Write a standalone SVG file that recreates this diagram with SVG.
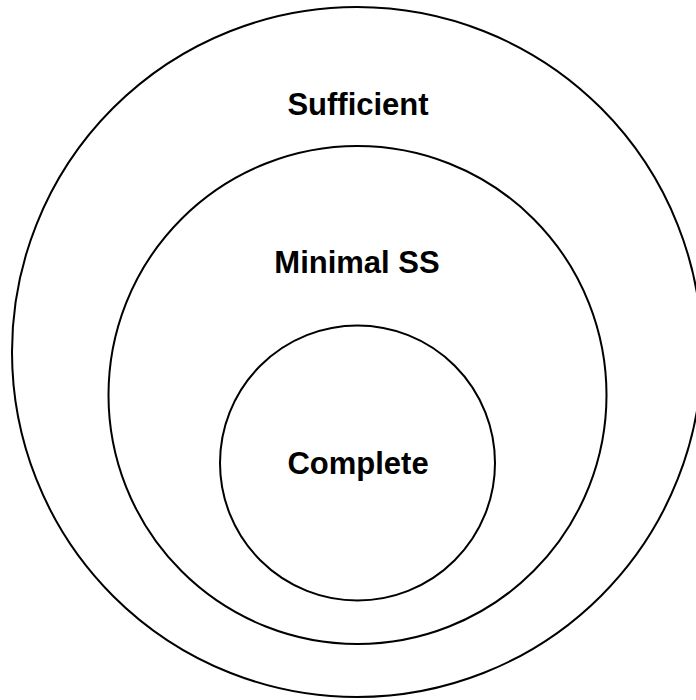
<svg xmlns="http://www.w3.org/2000/svg" width="696" height="700" viewBox="0 0 696 700">
<style>
.c{fill:none;stroke:#000;stroke-width:2}
.t{font-family:"Liberation Sans",Arial,sans-serif;font-weight:bold;font-size:31px;text-anchor:middle;fill:#000}
</style>
<rect width="696" height="700" fill="#fff"/>
<g id="sufficient"><circle class="c" cx="357" cy="352" r="345"/><text class="t" x="358" y="115">Sufficient</text></g>
<g id="minimal"><circle class="c" cx="357.5" cy="395" r="249"/><text class="t" x="357" y="273">Minimal SS</text></g>
<g id="complete"><circle class="c" cx="357.5" cy="463" r="137.5"/><text class="t" x="358" y="474">Complete</text></g>
<g id="connectors"/>
</svg>
